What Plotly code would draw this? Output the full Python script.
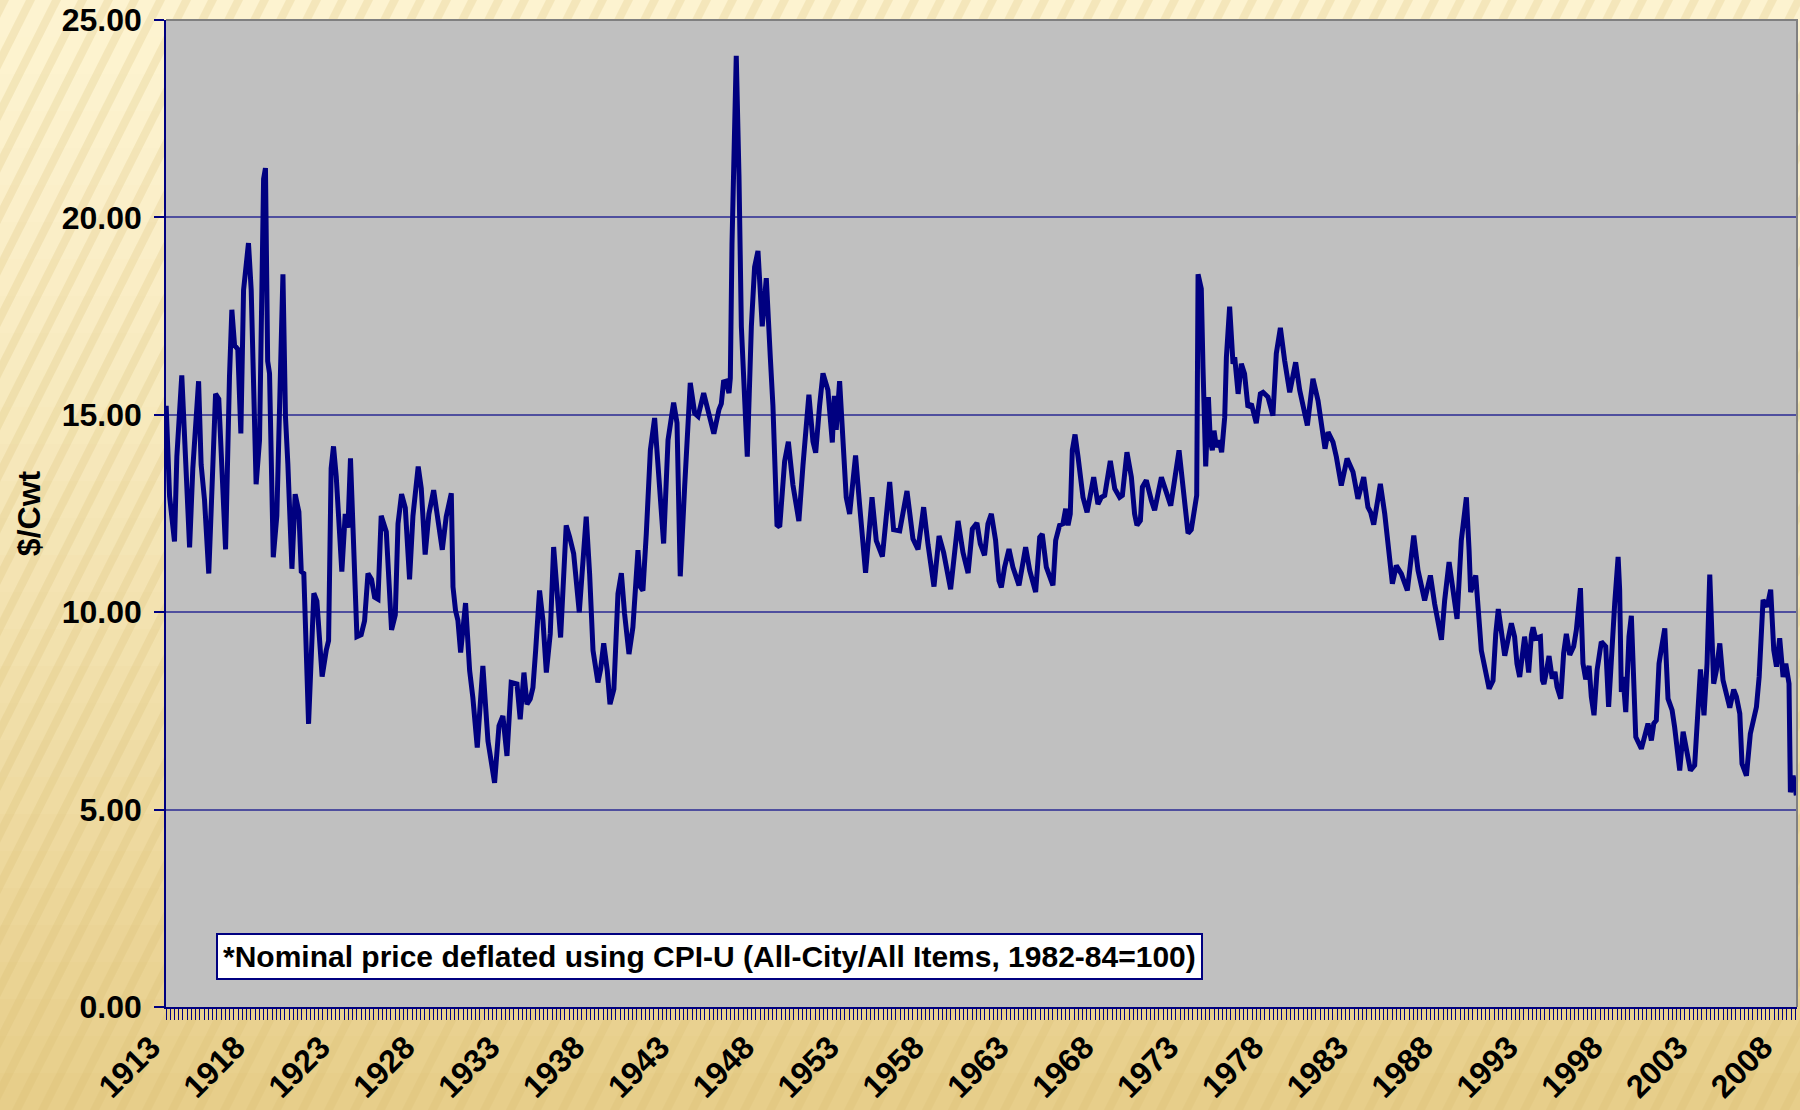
import plotly.graph_objects as go

anios = [
    1913.01, 1913.21, 1913.50, 1913.64, 1913.93, 1914.15, 1914.39, 1914.58, 1914.92, 1915.07,
    1915.27, 1915.52, 1915.72, 1915.92, 1916.11, 1916.31, 1916.51, 1916.74, 1916.88, 1917.04,
    1917.23, 1917.41, 1917.57, 1917.86, 1918.02, 1918.31, 1918.51, 1918.75, 1918.86, 1918.99,
    1919.10, 1919.32, 1919.53, 1919.89, 1920.04, 1920.18, 1920.42, 1920.61, 1920.83, 1920.97,
    1921.12, 1921.40, 1921.56, 1921.71, 1921.89, 1922.20, 1922.44, 1922.58, 1922.73, 1922.87,
    1923.03, 1923.36, 1923.56, 1923.72, 1923.87, 1924.01, 1924.25, 1924.50, 1924.70, 1924.90,
    1925.11, 1925.29, 1925.49, 1925.68, 1925.98, 1926.29, 1926.51, 1926.67, 1926.88, 1927.10,
    1927.35, 1927.55, 1927.86, 1928.04, 1928.27, 1928.49,
    1928.77, 1929.28, 1929.51, 1929.81, 1929.91, 1930.06, 1930.20, 1930.36, 1930.65, 1930.89,
    1931.08, 1931.34, 1931.67, 1931.97, 1932.36, 1932.62, 1932.85, 1933.09, 1933.34, 1933.68,
    1933.87, 1934.09, 1934.27, 1934.46, 1934.62, 1934.78, 1935.01, 1935.21, 1935.41, 1935.64,
    1935.84, 1936.25, 1936.58, 1936.78, 1937.02, 1937.35, 1937.76, 1937.96, 1938.16, 1938.45,
    1938.61, 1938.79, 1939.00, 1939.16, 1939.39, 1939.63, 1939.83, 1940.02, 1940.28, 1940.51,
    1940.81, 1940.95, 1941.10, 1941.30, 1941.54, 1941.79, 1941.99, 1942.32, 1942.58, 1942.91,
    1943.11, 1943.30, 1943.56, 1943.89, 1944.15, 1944.35,
    1944.68, 1944.93, 1945.28, 1945.58, 1945.72, 1945.85, 1946.01, 1946.17, 1946.25, 1946.35,
    1946.60, 1946.76, 1946.90, 1947.25, 1947.49, 1947.68, 1947.88, 1948.13, 1948.37, 1948.61,
    1948.76, 1949.00, 1949.16, 1949.45, 1949.67, 1949.94, 1950.29, 1950.53, 1950.73, 1950.88,
    1951.12, 1951.28, 1951.51, 1951.71, 1952.00, 1952.26, 1952.38, 1952.49, 1952.69, 1952.89,
    1953.08, 1953.28, 1953.63, 1953.87, 1954.22, 1954.60, 1954.85, 1955.21, 1955.64, 1955.87,
    1956.23, 1956.66, 1957.01, 1957.31, 1957.64, 1957.90, 1958.25, 1958.55, 1958.82, 1959.23,
    1959.67, 1959.96, 1960.26, 1960.51,
    1960.78, 1960.98, 1961.23, 1961.43, 1961.63, 1961.88, 1962.08, 1962.22, 1962.41, 1962.67,
    1962.90, 1963.26, 1963.65, 1963.89, 1964.24, 1964.48, 1964.63, 1964.87, 1965.26, 1965.42,
    1965.65, 1965.85, 1966.01, 1966.15, 1966.28, 1966.40, 1966.56, 1966.74, 1967.03, 1967.27,
    1967.66, 1967.91, 1968.11, 1968.31, 1968.64, 1968.90, 1969.19, 1969.35, 1969.62, 1969.88,
    1970.07, 1970.21, 1970.41, 1970.53, 1970.76, 1971.06, 1971.25, 1971.65, 1971.94, 1972.20,
    1972.69, 1972.88, 1973.02, 1973.22, 1973.41, 1973.61, 1973.73, 1973.81, 1974.00, 1974.10,
    1974.26, 1974.42, 1974.53, 1974.65, 1974.75, 1974.89, 1975.05, 1975.20, 1975.38, 1975.48,
    1975.67, 1975.87, 1975.97, 1976.17,
    1976.36, 1976.55, 1976.75, 1976.95, 1977.24, 1977.48, 1977.64, 1977.93, 1978.22, 1978.42,
    1978.66, 1978.91, 1979.21, 1979.56, 1979.80, 1980.25, 1980.58, 1980.88, 1981.07, 1981.29,
    1981.47, 1981.76, 1981.96, 1982.25, 1982.59, 1982.94, 1983.23, 1983.57, 1983.82, 1983.98,
    1984.16, 1984.55, 1984.81, 1985.00, 1985.26, 1985.49, 1985.79, 1986.14, 1986.52, 1986.77,
    1987.16, 1987.50, 1987.75, 1988.15, 1988.34, 1988.60, 1988.83, 1989.07, 1989.32, 1989.62,
    1989.78, 1989.87, 1990.17, 1990.37, 1990.50, 1990.96, 1991.19, 1991.35, 1991.50, 1991.88,
    1992.27, 1992.46, 1992.60, 1992.76, 1992.92, 1993.05, 1993.15, 1993.29, 1993.45, 1993.55,
    1993.70, 1993.98, 1994.10, 1994.19, 1994.33, 1994.49, 1994.68, 1994.84, 1994.96, 1995.18,
    1995.35, 1995.51, 1995.71, 1995.94, 1996.10, 1996.34, 1996.49, 1996.65, 1996.85, 1996.98,
    1997.14, 1997.32, 1997.57, 1997.83, 1998.00, 1998.16, 1998.36, 1998.56, 1998.65, 1998.75,
    1998.85, 1999.01, 1999.20, 1999.34, 1999.48, 1999.60, 1999.93, 2000.13, 2000.32, 2000.52,
    2000.66, 2000.81, 2000.97, 2001.11, 2001.31, 2001.50, 2001.74, 2001.89, 2002.19, 2002.39,
    2002.58, 2002.82, 2003.07, 2003.27, 2003.41, 2003.62, 2003.80, 2003.96, 2004.19, 2004.35,
    2004.55, 2004.74, 2004.94, 2005.14, 2005.37, 2005.53, 2005.73, 2005.86, 2006.12, 2006.35,
    2006.71, 2006.87, 2007.10, 2007.34, 2007.55, 2007.73, 2007.89, 2008.08, 2008.28, 2008.44,
    2008.63, 2008.71, 2008.87, 2009.06,
]

precios = [
    15.23, 12.94, 11.79, 13.95, 16.00, 13.95, 11.64, 13.64, 15.85, 13.74,
    12.84, 10.98, 12.94, 15.53, 15.40, 13.44, 11.59, 15.95, 17.66, 16.76,
    16.66, 14.53, 18.16, 19.35, 18.16, 13.24, 14.35, 20.97, 21.25, 16.36,
    16.05, 11.39, 12.44, 18.56, 14.95, 13.75, 11.10, 12.99, 12.54, 11.03,
    10.98, 7.17, 9.33, 10.48, 10.28, 8.37, 9.03, 9.28, 13.64, 14.20,
    13.44, 11.03, 12.49, 12.14, 13.90, 12.34, 9.38, 9.43, 9.78, 10.98,
    10.83, 10.38, 10.33, 12.44, 12.04, 9.55, 9.93, 12.24, 12.99, 12.64,
    10.83, 12.44, 13.69, 13.14, 11.46, 12.49,
    13.09, 11.58, 12.42, 13.01, 10.64, 10.04, 9.79, 8.98, 10.23, 8.52,
    7.84, 6.57, 8.64, 6.74, 5.68, 7.12, 7.37, 6.36, 8.22, 8.18,
    7.29, 8.47, 7.67, 7.80, 8.09, 9.03, 10.55, 9.79, 8.47, 9.45,
    11.65, 9.36, 12.20, 11.91, 11.48, 10.00, 12.42, 10.97, 9.03, 8.22,
    8.56, 9.21, 8.52, 7.67, 8.05, 10.47, 10.99, 9.96, 8.94, 9.62,
    11.57, 10.64, 10.55, 11.99, 14.11, 14.92, 13.69, 11.74, 14.36, 15.31,
    14.79, 10.91, 13.18, 15.81, 15.04, 14.96,
    15.55, 15.13, 14.52, 15.13, 15.28, 15.83, 15.85, 15.55, 15.93, 19.35,
    24.09, 21.06, 17.24, 13.94, 17.24, 18.74, 19.15, 17.24, 18.46, 16.43,
    15.23, 12.21, 12.16, 13.82, 14.32, 13.22, 12.31, 13.72, 14.72, 15.51,
    14.32, 14.04, 15.23, 16.05, 15.63, 14.30, 15.48, 14.62, 15.85, 14.22,
    12.91, 12.49, 13.97, 12.71, 11.00, 12.91, 11.81, 11.41, 13.30, 12.09,
    12.06, 13.07, 11.86, 11.59, 12.66, 11.71, 10.65, 11.93, 11.51, 10.58,
    12.31, 11.51, 10.99, 12.11,
    12.26, 11.73, 11.44, 12.24, 12.49, 11.82, 10.80, 10.63, 11.14, 11.60,
    11.14, 10.68, 11.65, 11.06, 10.51, 11.90, 11.98, 11.14, 10.68, 11.82,
    12.20, 12.24, 12.62, 12.20, 12.49, 14.10, 14.50, 13.93, 12.91, 12.53,
    13.42, 12.74, 12.91, 12.96, 13.83, 13.13, 12.91, 12.96, 14.05, 13.42,
    12.49, 12.20, 12.32, 13.17, 13.34, 12.83, 12.58, 13.42, 13.08, 12.70,
    14.10, 13.34, 12.66, 12.00, 12.09, 12.74, 12.96, 18.56, 18.19, 16.21,
    13.69, 15.45, 14.35, 14.10, 14.60, 14.18, 14.35, 14.05, 14.94, 16.46,
    17.74, 16.29, 16.46, 15.53,
    16.29, 16.04, 15.19, 15.28, 14.79, 15.53, 15.57, 15.45, 14.98, 16.55,
    17.20, 16.38, 15.57, 16.33, 15.62, 14.73, 15.91, 15.36, 14.69, 14.14,
    14.56, 14.31, 13.93, 13.21, 13.89, 13.55, 12.87, 13.42, 12.66, 12.53,
    12.22, 13.25, 12.49, 11.65, 10.72, 11.18, 10.97, 10.55, 11.94, 11.06,
    10.30, 10.93, 10.21, 9.30, 10.30, 11.27, 10.46, 9.83, 11.82, 12.91,
    11.56, 10.51, 10.93, 9.96, 9.03, 8.06, 8.27, 9.45, 10.08, 8.90,
    9.72, 9.38, 8.70, 8.36, 9.04, 9.38, 9.04, 8.47, 9.42, 9.62,
    9.34, 9.38, 8.28, 8.18, 8.49, 8.89, 8.32, 8.49, 8.11, 7.81,
    8.96, 9.45, 8.92, 9.13, 9.55, 10.61, 8.70, 8.30, 8.64, 7.86,
    7.39, 8.53, 9.25, 9.13, 7.60, 8.87, 10.23, 11.40, 10.57, 7.98,
    8.36, 7.47, 9.38, 9.91, 8.19, 6.84, 6.54, 6.92, 7.18, 6.75,
    7.18, 7.26, 8.70, 9.08, 9.59, 7.81, 7.52, 7.09, 5.99, 6.97,
    6.58, 5.99, 6.12, 7.73, 8.55, 7.39, 8.70, 10.95, 8.19, 8.53,
    9.21, 8.28, 7.86, 7.58, 8.04, 7.86, 7.43, 6.16, 5.86, 6.92,
    7.60, 8.36, 10.31, 10.14, 10.57, 9.04, 8.62, 9.34, 8.36, 8.70,
    8.19, 5.44, 5.86, 5.36,
]

anios_etiqueta = [1913, 1918, 1923, 1928, 1933, 1938, 1943, 1948, 1953, 1958,
                  1963, 1968, 1973, 1978, 1983, 1988, 1993, 1998, 2003, 2008]

NOTA = '*Nominal price deflated using CPI-U (All-City/All Items, 1982-84=100)'

ANCHO, ALTO = 1800, 1110
M_IZQ, M_DER, M_SUP, M_INF = 166, 3, 20, 103
AZUL = '#000080'
FUENTE = 'Liberation Sans, Arial, sans-serif'


def px_a_paper(x, y):
    """Convierte pixeles de la figura a coordenadas 'paper' del área de trazado."""
    ancho_plot = ANCHO - M_IZQ - M_DER
    alto_plot = ALTO - M_SUP - M_INF
    return (x - M_IZQ) / ancho_plot, (ALTO - M_INF - y) / alto_plot


def hex_mezcla(c1, c2, t):
    r = [round(a + (b - a) * t) for a, b in zip(c1, c2)]
    return 'rgb({},{},{})'.format(*r)


def fondo_rayado():
    """Fondo beige con degradado vertical y rayas diagonales (como la plantilla)."""
    formas = []
    # degradado vertical en bandas
    arriba, abajo = (253, 243, 208), (231, 206, 138)
    n = 30
    for i in range(n):
        y0 = ALTO * i / n
        y1 = ALTO * (i + 1) / n + 1
        x0p, y0p = px_a_paper(0, y0)
        x1p, y1p = px_a_paper(ANCHO, y1)
        formas.append(dict(type='rect', xref='paper', yref='paper', layer='below',
                           x0=x0p, x1=x1p, y0=y1p, y1=y0p, line_width=0,
                           fillcolor=hex_mezcla(arriba, abajo, (i / (n - 1)) ** 1.3)))
    # rayas diagonales
    desp = 560
    for x in range(-desp, ANCHO + 40, 26):
        pts = [(x, ALTO), (x + 9, ALTO), (x + 9 + desp, 0), (x + desp, 0)]
        pp = [px_a_paper(a, b) for a, b in pts]
        ruta = 'M {},{} L {},{} L {},{} L {},{} Z'.format(*[v for p in pp for v in p])
        formas.append(dict(type='path', xref='paper', yref='paper', layer='below',
                           path=ruta, line_width=0, fillcolor='rgba(215,185,110,0.22)'))
    # área de trazado gris
    formas.append(dict(type='rect', xref='paper', yref='paper', layer='below',
                       x0=0, x1=1, y0=0, y1=1, line_width=0, fillcolor='#C0C0C0'))
    # borde superior y derecho gris
    formas.append(dict(type='path', xref='paper', yref='paper', layer='above',
                       path='M 0,1 L 1,1 L 1,0', line=dict(color='#808080', width=2)))
    return formas


def crear_grafico_precio():
    """
    Crea la serie histórica del precio real ($/Cwt) con el estilo del original.

    Returns:
        fig: Figura de plotly.
    """
    fig = go.Figure()
    fig.add_trace(go.Scatter(
        x=anios, y=precios, mode='lines',
        line=dict(color=AZUL, width=5),
        hoverinfo='x+y', showlegend=False
    ))

    fig.update_layout(
        width=ANCHO, height=ALTO, autosize=False,
        margin=dict(l=M_IZQ, r=M_DER, t=M_SUP, b=M_INF, pad=0),
        paper_bgcolor='#F6E6B4',
        plot_bgcolor='#C0C0C0',
        font=dict(family=FUENTE, color='black'),
        shapes=fondo_rayado(),
        showlegend=False,
    )

    fig.update_xaxes(
        range=[1913, 2009.1], automargin=False,
        tickmode='array', tickvals=anios_etiqueta,
        ticktext=[str(a) for a in anios_etiqueta],
        tickangle=-45,
        tickfont=dict(size=32, weight='bold', family=FUENTE),
        ticks='outside', ticklen=11, tickcolor=AZUL, tickwidth=1,
        ticklabelstandoff=-4, ticklabelshift=-15,
        minor=dict(ticks='outside', ticklen=11, tickcolor=AZUL, tickwidth=1,
                   dtick=0.25, tick0=1913, showgrid=False),
        showline=True, linecolor=AZUL, linewidth=1.5,
        showgrid=False, zeroline=False,
    )

    fig.update_yaxes(
        range=[0, 25], dtick=5, tick0=0, tickformat='.2f', automargin=False,
        tickfont=dict(size=32, weight='bold', family=FUENTE),
        ticks='outside', ticklen=10, tickcolor=AZUL, tickwidth=1.5,
        ticklabelstandoff=6,
        showline=True, linecolor=AZUL, linewidth=1.5,
        showgrid=True, gridcolor='#4F4F9E', gridwidth=1.5,
        zeroline=False,
        title=dict(text='$/Cwt', standoff=12,
                   font=dict(size=32, weight='bold', family=FUENTE)),
    )

    # Nota al pie dentro del gráfico
    xa, ya = px_a_paper(709, 956)
    fig.add_annotation(
        x=xa, y=ya, xref='paper', yref='paper',
        xanchor='center', yanchor='middle', showarrow=False,
        text=NOTA,
        font=dict(size=30, weight='bold', family=FUENTE, color='black'),
        bgcolor='white', bordercolor=AZUL, borderwidth=2, borderpad=5,
    )
    return fig


fig = crear_grafico_precio()
fig.write_html("out.html", config={'displayModeBar': False},
               post_script="document.body.style.margin='0';")
